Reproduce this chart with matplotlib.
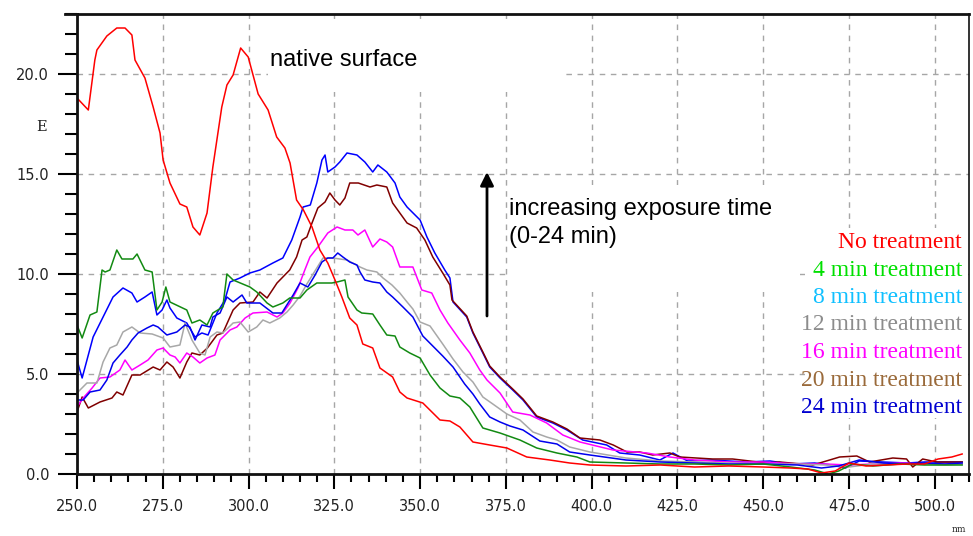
import matplotlib
matplotlib.use("Agg")
import matplotlib.pyplot as plt
from matplotlib.patches import Rectangle
from matplotlib.ticker import MultipleLocator, FormatStrFormatter

# ---------------- data ----------------
x_red = [250, 253.3, 255.2, 255.8, 258.7, 261.6, 264, 266, 266.9, 269.8, 272.2, 274.2, 275.1, 277.1, 280, 282,
         283.8, 285.8, 287.9, 289.6, 292.2, 293.7, 295.5, 297.7, 299.9, 302.8, 305.7, 308.2, 310.6, 312.1, 314,
         316, 318.5, 320.8, 323.1, 325.2, 327.2, 329.5, 331.6, 333.3, 336.2, 338.3, 342, 344.1, 346.2, 350.8,
         355.8, 358.7, 361.6, 365.4, 370.3, 375.3, 381.1, 387.8, 393.6, 399.5, 410, 420, 430, 440, 450, 458,
         463, 467, 471, 475, 480, 486, 492, 497, 501, 505, 508]
y_red = [18.8, 18.2, 20.7, 21.2, 21.9, 22.3, 22.3, 21.95, 20.7, 19.8, 18.35, 17.05, 15.7, 14.55, 13.5, 13.35,
         12.35, 11.95, 13.05, 15.35, 18.35, 19.45, 19.95, 21.3, 20.85, 19.0, 18.2, 16.85, 16.3, 15.55, 13.7,
         13.2, 12.35, 11.2, 10.55, 9.7, 8.85, 7.8, 7.45, 6.5, 6.3, 5.3, 4.85, 4.1, 3.8, 3.55,
         2.7, 2.65, 2.35, 1.6, 1.45, 1.3, 0.85, 0.7, 0.55, 0.45, 0.4, 0.45, 0.35, 0.4, 0.35, 0.3,
         0.25, 0.05, 0.15, 0.55, 0.4, 0.45, 0.5, 0.5, 0.75, 0.85, 1.0]

x_4 = [250, 251.5, 253.8, 255.8, 257.3, 258.2, 259.6, 261.6, 263.1, 266.3, 267.5, 269.8, 271.9, 273.3, 274.8,
       275.9, 277.1, 282, 283.5, 285.8, 287.9, 289.6, 292.5, 293.7, 295.5, 300.4, 302.4, 305.4, 307.1, 310, 312,
       315, 317, 319.9, 324.3, 325.8, 328.1, 329, 331.6, 333, 336.2, 338.3, 340.3, 342.7, 344.1, 347, 350,
       352.9, 355.8, 358.7, 361.6, 364.5, 368.3, 373.3, 379.1, 384, 389.9, 395.7, 399.5, 410, 420, 430, 440,
       450, 458, 465, 469, 472, 476, 482, 490, 497, 503, 508]
y_4 = [7.45, 6.8, 7.95, 8.1, 10.2, 10.1, 10.2, 11.2, 10.75, 10.75, 11.0, 10.2, 10.1, 8.2, 8.6,
       9.35, 8.6, 8.2, 7.55, 7.7, 7.45, 8.05, 8.35, 10.0, 9.7, 9.35, 9.1, 8.55, 8.35, 8.55, 8.8,
       8.8, 9.2, 9.55, 9.55, 9.6, 9.7, 8.85, 8.2, 8.05, 8.0, 7.45, 6.95, 6.9, 6.35, 6.05, 5.8,
       4.95, 4.3, 3.9, 3.8, 3.35, 2.3, 2.05, 1.7, 1.3, 1.05, 0.85, 0.6, 0.55, 0.5, 0.5, 0.45,
       0.5, 0.35, 0.2, 0.0, 0.15, 0.5, 0.4, 0.5, 0.45, 0.45, 0.45]

x_8 = [250, 251.8, 253.8, 256.7, 258.7, 260.5, 262.5, 264.6, 266, 267.8, 270.4, 272.2, 273.6, 276.2, 279.1,
       281.5, 282.9, 284.4, 286.4, 288.8, 289.6, 291.7, 293.7, 295.5, 298.1, 299.5, 303.3, 307.1, 309.7, 313,
       315, 317.3, 319.4, 321.4, 323.1, 324.6, 326, 327.5, 329.5, 331.6, 332.5, 333.9, 336.2, 338.3, 340.3,
       342, 345, 347.9, 350.8, 353.7, 356.6, 359.6, 363, 365.4, 367.4, 370.3, 373.3, 376.2, 380, 384.9, 389.9,
       393.6, 399.5, 410, 420, 430, 440, 450, 460, 467, 472, 478, 485, 492, 497, 503, 508]
y_8 = [3.7, 3.7, 4.1, 4.2, 4.7, 5.55, 5.95, 6.35, 6.7, 7.05, 7.3, 7.45, 7.35, 6.95, 7.1,
       7.45, 7.35, 6.7, 7.45, 7.35, 7.85, 8.05, 8.85, 8.6, 8.95, 8.55, 8.55, 8.05, 8.05, 8.95,
       9.55, 9.35, 9.95, 10.6, 10.8, 10.8, 11.05, 10.85, 10.6, 10.45, 10.1, 9.7, 9.6, 9.55, 9.1,
       8.85, 8.35, 7.85, 6.9, 6.4, 5.9, 5.35, 4.5, 4.0, 3.5, 2.85, 2.6, 2.4, 2.2, 1.65, 1.5,
       1.1, 0.95, 0.7, 0.6, 0.55, 0.5, 0.5, 0.45, 0.3, 0.4, 0.7, 0.55, 0.5, 0.55, 0.5, 0.55]

x_12 = [250, 252.9, 255.8, 257.6, 259.6, 261.6, 263.4, 266, 268.4, 271.9, 275.1, 277.1, 280, 281.5, 283.5,
        285.8, 287.3, 288.8, 290.8, 292.5, 295.5, 297.5, 299.9, 302.4, 304.2, 306.2, 309.1, 311.2, 313, 315,
        317, 319.9, 321.7, 324.6, 328.7, 332.5, 334.5, 337.4, 339.2, 341.8, 344.1, 346.2, 347.9, 350, 352.9,
        356.6, 359.6, 362.5, 365.4, 368.3, 371.2, 375.3, 379.1, 382.9, 386.9, 389.9, 393.6, 399.5, 410, 420,
        430, 440, 450, 460, 468, 475, 482, 490, 497, 503, 508]
y_12 = [4.05, 4.55, 4.55, 5.6, 6.3, 6.45, 7.1, 7.35, 7.05, 7.0, 6.8, 6.35, 6.45, 7.55, 6.7,
        6.05, 5.95, 6.85, 7.1, 7.05, 7.55, 7.6, 7.1, 7.35, 7.7, 7.55, 7.8, 8.1, 8.45, 8.9,
        9.5, 10.3, 10.8, 10.8, 10.7, 10.35, 10.2, 10.1, 9.8, 9.45, 9.05, 8.6, 8.25, 7.6, 7.4,
        6.5, 5.75, 5.1, 4.6, 3.85, 3.5, 3.0, 2.7, 2.1, 1.85, 1.7, 1.35, 1.1, 0.8, 0.65,
        0.6, 0.55, 0.5, 0.5, 0.45, 0.35, 0.5, 0.5, 0.5, 0.45, 0.5]

x_16 = [250, 251.8, 254.4, 256.7, 259.6, 262.5, 264, 266, 268.4, 270.7, 273.3, 275.1, 277.1, 278.6, 280, 282,
        283.8, 285.8, 287.9, 290.2, 291.7, 294.6, 296.6, 299, 301.3, 305.4, 308.3, 310, 312.1, 314.4, 316.4,
        317.9, 320.2, 323.1, 325.8, 328.1, 330.4, 331.9, 333.9, 336.2, 338.3, 340.3, 342, 344.1, 347.9, 350.5,
        353.4, 355.8, 358.1, 361.6, 364.5, 367.4, 369.5, 373.3, 377, 382, 386.9, 391.6, 396.6, 406.2, 416.1,
        422.8, 430, 440, 450, 460, 468, 475, 482, 490, 497, 503, 508]
y_16 = [3.35, 3.8, 4.3, 4.8, 4.85, 5.2, 5.7, 5.2, 5.45, 5.7, 6.2, 6.3, 5.95, 5.85, 5.55, 6.05,
        5.85, 5.55, 5.8, 5.95, 6.7, 7.2, 7.35, 7.8, 8.05, 8.1, 7.85, 8.05, 8.55, 9.3, 10.2,
        10.85, 11.35, 12.05, 12.35, 12.2, 12.2, 11.95, 12.2, 11.35, 11.75, 11.6, 11.35, 10.35, 10.35, 9.2,
        9.05, 8.2, 7.55, 6.7, 6.05, 5.2, 4.7, 4.05, 3.1, 2.95, 2.55, 1.95, 1.6, 1.2, 1.05,
        0.85, 0.7, 0.6, 0.6, 0.5, 0.5, 0.45, 0.5, 0.55, 0.5, 0.5, 0.5]

x_20 = [250, 251.5, 253.3, 256.7, 260.2, 261.6, 263.4, 266, 268.4, 272.2, 274.2, 276.2, 278, 280, 282, 283.5,
        285.8, 288, 290.8, 292.5, 295.5, 297.5, 301.3, 303.3, 305.4, 308.3, 312, 314, 315.6, 317, 318.5, 320.2,
        322.3, 323.7, 325.2, 326.6, 328.1, 329.5, 332, 335.4, 337.4, 340.3, 342, 344.1, 346.2, 349, 351.4,
        353.7, 356.6, 358.7, 359.3, 363.6, 365.4, 368.3, 370.3, 373.3, 377, 380, 384, 388.7, 392.8, 396.6,
        402.4, 406.3, 410.3, 414, 417.8, 422.8, 425.7, 435.3, 441.1, 451, 454.8, 464.5, 472.3, 477.3, 481,
        487.8, 491.8, 493.6, 496.5, 500.6, 508]
y_20 = [3.1, 3.85, 3.3, 3.6, 3.8, 4.1, 3.95, 4.95, 4.95, 5.35, 5.2, 5.6, 5.35, 4.8, 5.6, 6.05,
        5.95, 6.3, 6.95, 7.05, 8.2, 8.55, 8.6, 9.1, 8.8, 9.55, 10.2, 10.85, 11.7, 11.85, 12.55, 13.3,
        13.6, 14.05, 13.7, 13.45, 13.8, 14.55, 14.55, 14.35, 14.45, 14.35, 13.55, 13.05, 12.55, 12.3, 11.7,
        10.85, 10.05, 9.45, 8.7, 7.9, 7.1, 6.1, 5.4, 4.85, 4.25, 3.75, 2.9, 2.6, 2.25, 1.8,
        1.7, 1.45, 1.1, 1.1, 0.95, 1.05, 0.85, 0.75, 0.75, 0.55, 0.6, 0.45, 0.85, 0.9, 0.6,
        0.8, 0.75, 0.35, 0.75, 0.6, 0.6]

x_24 = [250, 251.5, 254.7, 257.6, 260.5, 263.4, 266, 267.5, 269.8, 271.9, 273.3, 274.8, 276.2, 277.1, 279.1,
        282, 284.4, 286.4, 288.2, 290.8, 293.1, 294.6, 297.5, 300.4, 303.3, 307.1, 310, 312.6, 315, 315.9, 318,
        319.9, 321.4, 322.3, 323.1, 325.2, 326.6, 328.7, 331.6, 333.9, 336.2, 337.7, 340.3, 342.7, 344.1,
        346.2, 350, 352, 354.3, 357.2, 358.7, 359.6, 363.6, 365.4, 368.3, 370.3, 373.3, 377, 380, 384, 388.7,
        392.8, 397.4, 404.4, 408.2, 414, 419.9, 423.7, 428, 435, 445, 452, 458, 465, 470, 474, 478, 485, 492,
        497, 503, 508]
y_24 = [5.7, 4.8, 6.85, 7.85, 8.85, 9.3, 9.05, 8.6, 8.85, 9.1, 7.95, 8.2, 8.7, 8.3, 7.8,
        7.55, 6.85, 7.05, 6.95, 8.05, 8.7, 9.6, 9.8, 10.05, 10.2, 10.55, 10.8, 11.7, 12.85, 13.35, 13.45,
        14.55, 15.7, 15.95, 15.1, 15.35, 15.6, 16.05, 15.95, 15.6, 15.1, 15.45, 15.1, 14.55, 13.85,
        13.35, 12.7, 11.85, 11.05, 10.2, 9.8, 8.6, 7.85, 7.05, 6.05, 5.35, 4.8, 4.2, 3.7, 2.85, 2.55,
        2.2, 1.7, 1.45, 1.05, 0.95, 0.7, 1.05, 0.65, 0.7, 0.6, 0.65, 0.5, 0.55, 0.45, 0.3, 0.65, 0.6, 0.55,
        0.6, 0.6, 0.6]

legend_labels = ["No treatment", "4 min treatment", "8 min treatment", "12 min treatment",
                 "16 min treatment", "20 min treatment", "24 min treatment"]
legend_colors = ["#ff0000", "#00e000", "#10c0ff", "#8c8c8c", "#ff00ff", "#9a6a3a", "#0000d0"]

x_ticks = [250, 275, 300, 325, 350, 375, 400, 425, 450, 475, 500]
y_ticks = [0, 5, 10, 15, 20]

# ---------------- figure ----------------
W, H = 973, 536
fig = plt.figure(figsize=(W / 100, H / 100), dpi=100)
L, R, T, B = 77, 969, 14, 474
ax = fig.add_axes([L / W, (H - B) / H, (R - L) / W, (B - T) / H])

def fx(px):
    return (px - L) / (R - L)

def fy(py):
    return (B - py) / (B - T)

series = [
    (x_24, y_24, "#0000ff"),
    (x_20, y_20, "#800000"),
    (x_16, y_16, "#ff00ff"),
    (x_12, y_12, "#a8a8a8"),
    (x_8, y_8, "#0000ee"),
    (x_4, y_4, "#128a12"),
    (x_red, y_red, "#ff0000"),
]
for xs, ys, c in series:
    ax.plot(xs, ys, color=c, lw=1.1, zorder=2)

ax.set_xlim(250, 510)
ax.set_ylim(0, 23)

ax.xaxis.set_major_locator(MultipleLocator(25))
ax.xaxis.set_minor_locator(MultipleLocator(5))
ax.yaxis.set_major_locator(MultipleLocator(5))
ax.yaxis.set_minor_locator(MultipleLocator(1))
ax.set_xticks(x_ticks)
ax.set_yticks(y_ticks)
ax.xaxis.set_major_formatter(FormatStrFormatter("%.1f"))
ax.yaxis.set_major_formatter(FormatStrFormatter("%.1f"))

ax.tick_params(axis="x", which="major", direction="out", length=11, width=1.5, pad=7,
               labelsize=10.5, labelcolor="#222222")
ax.tick_params(axis="x", which="minor", direction="out", length=6, width=1.5)
ax.tick_params(axis="y", which="major", direction="out", length=14, width=1.5, pad=6,
               labelsize=10.5, labelcolor="#222222")
ax.tick_params(axis="y", which="minor", direction="out", length=8.5, width=1.5)

ax.set_axisbelow(True)
ax.grid(True, which="major", color="#a6a6a6", linestyle=(0, (4, 4)), lw=1.0)

for side in ["left", "bottom", "top"]:
    ax.spines[side].set_linewidth(2)
    ax.spines[side].set_color("#111111")
ax.spines["right"].set_linewidth(1.2)
ax.spines["right"].set_color("#111111")
# top frame line continues a little to the left
ax.plot([fx(65), 0], [1, 1], transform=ax.transAxes, color="#111111", lw=2, clip_on=False)

# white panels from the overlaid text boxes
for (px0, px1, py0, py1) in [(268, 565, 22, 92), (509, 800, 185, 292), (805, 968, 228, 418)]:
    ax.add_patch(Rectangle((fx(px0), fy(py1)), fx(px1) - fx(px0), fy(py0) - fy(py1),
                           transform=ax.transAxes, facecolor="white", edgecolor="none", zorder=1))

# annotations
sans = ["Liberation Sans", "DejaVu Sans"]
ax.text(fx(270), fy(66), "native surface", transform=ax.transAxes, fontsize=17,
        family=sans, ha="left", va="baseline", zorder=3)
ax.text(fx(509), fy(215), "increasing exposure time", transform=ax.transAxes, fontsize=17,
        family=sans, ha="left", va="baseline", zorder=3)
ax.text(fx(509), fy(243), "(0-24 min)", transform=ax.transAxes, fontsize=17,
        family=sans, ha="left", va="baseline", zorder=3)
ax.annotate("", xy=(fx(487), fy(172)), xytext=(fx(487), fy(316)),
            xycoords=ax.transAxes, textcoords=ax.transAxes,
            arrowprops=dict(arrowstyle="-|>", color="black", lw=2, mutation_scale=20,
                            shrinkA=0, shrinkB=0), zorder=3)

serif = ["Liberation Serif", "DejaVu Serif"]
for i, (lab, col) in enumerate(zip(legend_labels, legend_colors)):
    ax.text(fx(962), fy(248 + 27.5 * i), lab, transform=ax.transAxes, fontsize=17,
            family=serif, color=col, ha="right", va="baseline", zorder=3)

ax.text(fx(42), fy(127), "E", transform=ax.transAxes, fontsize=10.5, family=["DejaVu Serif"],
        ha="center", va="center", color="#222222")
fig.text(959 / W, 1 - 530 / H, "nm", fontsize=6.5, family=["DejaVu Serif"], ha="center",
         va="center", color="#222222")

fig.savefig("out.png", dpi=100, facecolor="white")
